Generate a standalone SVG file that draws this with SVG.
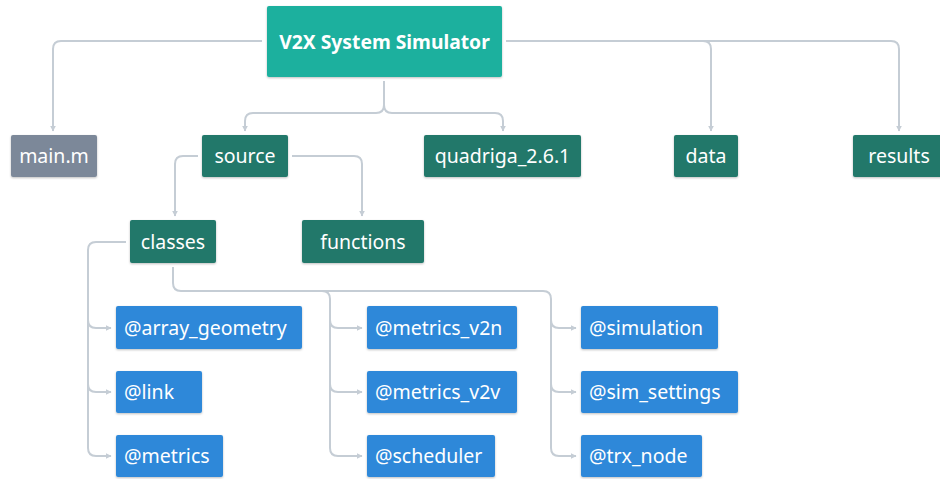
<svg xmlns="http://www.w3.org/2000/svg" width="940" height="479" viewBox="0 0 940 479">
<defs>
<marker id="arr" viewBox="0 0 10 10" refX="9" refY="5" markerWidth="6" markerHeight="6" orient="auto-start-reverse" markerUnits="userSpaceOnUse">
<path d="M0,0 L10,5 L0,10 z" fill="#c5cdd5"/>
</marker>
<filter id="sh" x="-10%" y="-10%" width="120%" height="130%">
<feDropShadow dx="0" dy="1" stdDeviation="0.8" flood-color="#000" flood-opacity="0.25"/>
</filter>
</defs>
<style>
.c{fill:none;stroke:#c5cdd5;stroke-width:2}
.a{marker-end:url(#arr)}
.n rect{filter:url(#sh)}
.root rect{fill:#1cb09e}
.grey rect{fill:#7b8899}
.dk rect{fill:#21786a}
.bl rect{fill:#2e88d9}
text{font-family:"Noto Sans","DejaVu Sans",sans-serif;font-size:19.5px;fill:#ffffff}
.mid{text-anchor:middle}
.root text{font-weight:bold;font-size:19.3px}
</style>
<rect width="940" height="479" fill="#ffffff"/>
<g id="connectors">
<path class="c a" d="M262,41 H61 Q53,41 53,49 V131"/>
<path class="c" d="M384,81 V105 Q384,113 376,113 H253 Q245,113 245,121 V124"/>
<path class="c a" d="M245,122 V131"/>
<path class="c a" d="M384,105 Q384,113 392,113 H495 Q503,113 503,121 V131"/>
<path class="c a" d="M506,41 H703 Q711,41 711,49 V131"/>
<path class="c a" d="M703,41 H891 Q899,41 899,49 V131"/>
<path class="c a" d="M198,156 H183 Q175,156 175,164 V216"/>
<path class="c a" d="M292,156 H354 Q362,156 362,164 V216"/>
<path class="c a" d="M126,242 H96 Q88,242 88,250 V320 Q88,328 96,328 H111"/>
<path class="c a" d="M88,320 V384 Q88,392 96,392 H111"/>
<path class="c a" d="M88,384 V448 Q88,456 96,456 H111"/>
<path class="c" d="M173,267 V283 Q173,291 181,291 H543 Q551,291 551,299 V448"/>
<path class="c a" d="M551,320 Q551,328 559,328 H576"/>
<path class="c a" d="M551,384 Q551,392 559,392 H576"/>
<path class="c a" d="M551,448 Q551,456 559,456 H576"/>
<path class="c" d="M322,291 Q330,291 330,299 V448"/>
<path class="c a" d="M330,320 Q330,328 338,328 H362"/>
<path class="c a" d="M330,384 Q330,392 338,392 H362"/>
<path class="c a" d="M330,448 Q330,456 338,456 H362"/>
</g>
<g id="root" class="n root"><rect x="267" y="6" width="235" height="71" rx="2"/><text class="mid" x="384.5" y="48.5">V2X System Simulator</text></g>
<g id="main_m" class="n grey"><rect x="11" y="135" width="86" height="42" rx="2"/><text class="mid" x="54" y="163">main.m</text></g>
<g id="source" class="n dk"><rect x="202" y="135" width="86" height="42" rx="2"/><text class="mid" x="245" y="163">source</text></g>
<g id="quadriga" class="n dk"><rect x="424" y="135" width="157" height="42" rx="2"/><text class="mid" x="502.5" y="163">quadriga_2.6.1</text></g>
<g id="data" class="n dk"><rect x="674" y="135" width="64" height="42" rx="2"/><text class="mid" x="706" y="163">data</text></g>
<g id="results" class="n dk"><rect x="853" y="135" width="92" height="42" rx="2"/><text class="mid" x="899" y="163">results</text></g>
<g id="classes" class="n dk"><rect x="130" y="220" width="86" height="43" rx="2"/><text class="mid" x="173" y="249">classes</text></g>
<g id="functions" class="n dk"><rect x="302" y="220" width="122" height="43" rx="2"/><text class="mid" x="363" y="249">functions</text></g>
<g id="array_geometry" class="n bl"><rect x="116" y="306" width="186" height="43" rx="2"/><text x="124" y="335">@array_geometry</text></g>
<g id="link" class="n bl"><rect x="116" y="371" width="86" height="42" rx="2"/><text x="124" y="399">@link</text></g>
<g id="metrics" class="n bl"><rect x="116" y="435" width="107" height="42" rx="2"/><text x="124" y="463">@metrics</text></g>
<g id="metrics_v2n" class="n bl"><rect x="367" y="306" width="150" height="43" rx="2"/><text x="375" y="335">@metrics_v2n</text></g>
<g id="metrics_v2v" class="n bl"><rect x="367" y="371" width="150" height="42" rx="2"/><text x="375" y="399">@metrics_v2v</text></g>
<g id="scheduler" class="n bl"><rect x="367" y="435" width="128" height="42" rx="2"/><text x="375" y="463">@scheduler</text></g>
<g id="simulation" class="n bl"><rect x="581" y="306" width="137" height="43" rx="2"/><text x="589" y="335">@simulation</text></g>
<g id="sim_settings" class="n bl"><rect x="581" y="371" width="157" height="42" rx="2"/><text x="589" y="399">@sim_settings</text></g>
<g id="trx_node" class="n bl"><rect x="581" y="435" width="121" height="42" rx="2"/><text x="589" y="463">@trx_node</text></g>
</svg>
